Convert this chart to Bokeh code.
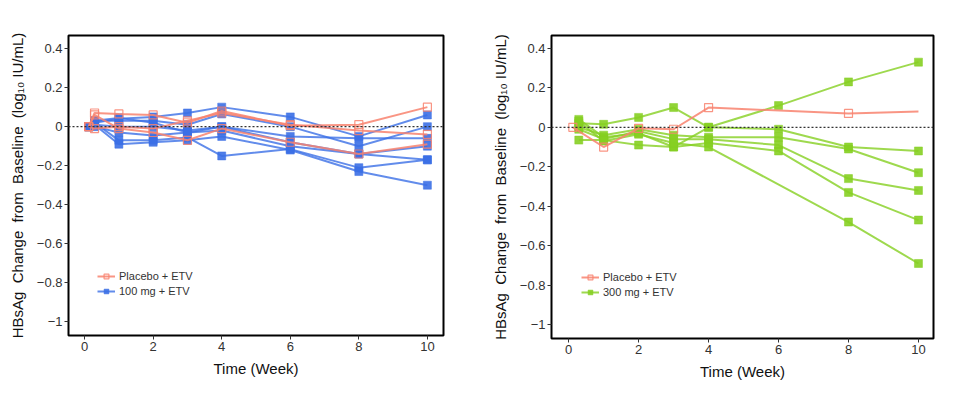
from bokeh.plotting import figure
from bokeh.layouts import row
from bokeh.models import Span, Legend, LegendItem, FixedTicker, CustomJSTickFormatter, Range1d
from bokeh.embed import file_html
from bokeh.resources import INLINE

# ---------------- data ----------------
weeks = [0.12, 0.29, 1, 2, 3, 4, 6, 8, 10]
x_ticks = [0, 2, 4, 6, 8, 10]
y_ticks = [-1, -0.8, -0.6, -0.4, -0.2, 0, 0.2, 0.4]

# left panel: Placebo + ETV (open squares)
left_placebo = [
    [0, 0.07, 0.065, 0.06, 0.02, 0.08, 0.005, 0.01, 0.10],
    [0, 0.06, -0.01, -0.03, -0.07, -0.01, -0.08, -0.14, -0.09],
    [0, -0.01, 0.0, -0.01, 0.03, 0.07, 0.01, -0.02, -0.04],
]
# left panel: 100 mg + ETV
left_100mg = [
    [0, 0.02, 0.04, 0.05, 0.07, 0.10, 0.05, -0.05, 0.06],
    [0, 0.03, 0.03, 0.03, 0.01, 0.065, 0.0, -0.10, 0.0],
    [0, 0.01, 0.0, 0.0, -0.02, 0.0, -0.05, -0.06, -0.06],
    [0, 0.0, -0.03, -0.045, -0.03, -0.02, -0.10, -0.14, -0.17],
    [0, 0.02, -0.07, -0.07, -0.055, -0.15, -0.115, -0.21, -0.17],
    [0, 0.01, -0.09, -0.08, -0.07, -0.05, -0.12, -0.23, -0.30],
    [0, 0.03, 0.045, 0.02, -0.03, 0.0, -0.08, -0.14, -0.10],
]
# right panel: Placebo + ETV
right_placebo = [
    [0, None, -0.10, -0.005, -0.01, 0.10, None, 0.07, 0.08],
]
right_placebo_no_marker_weeks = [10]
# right panel: 300 mg + ETV
right_300mg = [
    [None, 0.04, -0.05, -0.03, -0.10, 0.0, 0.11, 0.23, 0.33],
    [None, 0.02, 0.015, 0.05, 0.10, 0.0, -0.01, -0.10, -0.12],
    [None, 0.0, -0.04, -0.01, -0.04, -0.05, -0.05, -0.11, -0.23],
    [None, -0.01, -0.06, -0.02, -0.06, -0.06, -0.09, -0.26, -0.32],
    [None, -0.065, -0.065, -0.09, -0.10, -0.08, -0.12, -0.33, -0.47],
    [None, 0.03, -0.07, -0.035, -0.08, -0.10, None, -0.48, -0.69],
]

PLACEBO_COLOR = "#F8826E"
BLUE = "#3B6FE6"
GREEN = "#86CF22"
FONT = "Liberation Sans"
NB = "\u00a0"
YLABEL = f"HBsAg {NB}Change {NB}from {NB}Baseline {NB}(log\u2081\u2080 IU/mL)"


def pairs(vals, skip_weeks=()):
    xs, ys = [], []
    for w, v in zip(weeks, vals):
        if v is None or w in skip_weeks:
            continue
        xs.append(w)
        ys.append(v)
    return xs, ys


def make_panel(width, height, borders, xr, yr, placebo, treated, tcolor, tlabel,
               legend_loc, placebo_skip=()):
    p = figure(width=width, height=height, output_backend="svg", toolbar_location=None,
               x_range=Range1d(*xr), y_range=Range1d(*yr),
               min_border_left=borders[0], min_border_right=borders[1],
               min_border_top=borders[2], min_border_bottom=borders[3])
    p.xgrid.visible = False
    p.ygrid.visible = False
    p.outline_line_color = "black"
    p.outline_line_width = 2
    p.background_fill_color = "white"
    p.border_fill_color = "white"

    for ax in (p.xaxis, p.yaxis):
        ax.axis_line_color = None
        ax.major_tick_line_color = "#333333"
        ax.major_tick_out = 4
        ax.major_tick_in = 0
        ax.minor_tick_line_color = None
        ax.major_label_text_font = FONT
        ax.major_label_text_font_size = "13px"
        ax.major_label_text_color = "#333333"
        ax.major_label_standoff = 2
        ax.axis_label_text_font = FONT
        ax.axis_label_text_font_size = "15px"
        ax.axis_label_text_font_style = "normal"
        ax.axis_label_text_color = "#111111"
    p.xaxis.ticker = FixedTicker(ticks=x_ticks)
    p.yaxis.ticker = FixedTicker(ticks=y_ticks)
    p.yaxis.formatter = CustomJSTickFormatter(
        code="return (Math.round(tick*10)/10).toString().replace('-', '\u2212');")
    p.xaxis.axis_label = "Time (Week)"
    p.yaxis.axis_label = YLABEL
    p.xaxis.axis_label_standoff = 6
    p.yaxis.axis_label_standoff = 8

    p.add_layout(Span(location=0, dimension="width", line_color="#333333",
                      line_dash="2 2", line_width=1.2))

    tr = []
    for vals in treated:
        xs, ys = pairs(vals)
        l = p.line(xs, ys, line_color=tcolor, line_width=2, line_alpha=0.8)
        s = p.scatter(xs, ys, marker="square", size=8, fill_color=tcolor, fill_alpha=0.9,
                      line_color=tcolor, line_alpha=0.5)
        tr.append((l, s))
    pr = []
    for vals in placebo:
        xs, ys = pairs(vals)
        l = p.line(xs, ys, line_color=PLACEBO_COLOR, line_width=2, line_alpha=0.85)
        mx, my = pairs(vals, placebo_skip)
        s = p.scatter(mx, my, marker="square", size=8, fill_color=None,
                      line_color=PLACEBO_COLOR, line_width=1.2, line_alpha=0.85)
        pr.append((l, s))

    legend = Legend(items=[
        LegendItem(label="Placebo + ETV", renderers=list(pr[0])),
        LegendItem(label=tlabel, renderers=list(tr[0])),
    ], location=legend_loc)
    legend.label_text_font = FONT
    legend.label_text_font_size = "11px"
    legend.label_text_color = "#333333"
    legend.glyph_width = 18
    legend.glyph_height = 12
    legend.label_height = 15
    legend.label_standoff = 4
    legend.spacing = 0
    legend.padding = 0
    legend.margin = 0
    legend.border_line_color = None
    legend.background_fill_alpha = 0
    p.add_layout(legend)
    return p


p1 = make_panel(480, 385, (68, 37, 35, 50), (-0.47, 10.47), (-1.07, 0.467),
                left_placebo, left_100mg, BLUE, "100 mg + ETV", (29, 37))
p2 = make_panel(463, 388, (71, 10, 35, 46), (-0.49, 10.43), (-1.07, 0.465),
                right_placebo, right_300mg, GREEN, "300 mg + ETV", (30, 39),
                placebo_skip=right_placebo_no_marker_weeks)

layout = row(p1, p2)
open("out.html", "w").write(file_html(layout, INLINE))
